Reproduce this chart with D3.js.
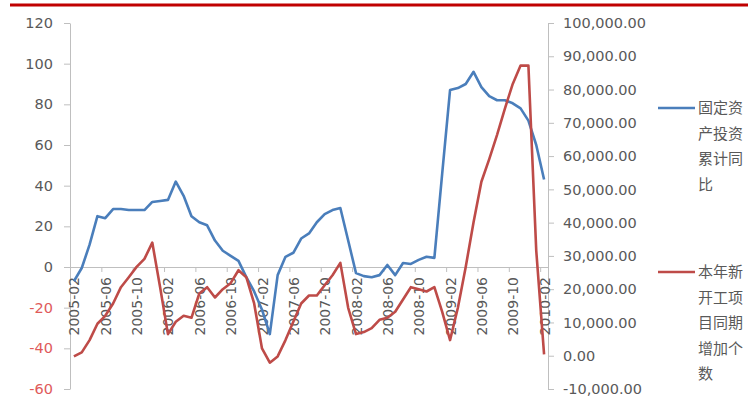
<!DOCTYPE html>
<html>
<head>
<meta charset="utf-8">
<title>固定资产投资累计同比 vs 本年新开工项目同期增加个数</title>
<script src="https://d3js.org/d3.v7.min.js"></script>
<style>
body { margin: 0; background: #fff; }
svg text { font-family: "DejaVu Sans", sans-serif; fill: #595959; }
.legend text { font-family: "Noto Sans CJK SC", sans-serif; font-size: 15px; }
.axis path, .axis line { stroke: #bfbfbf; }
</style>
</head>
<body>
<svg class="chart" width="753" height="408"></svg>
<script>

// months on the category axis
var months = [
  "2005-02","2005-03","2005-04","2005-05","2005-06","2005-07","2005-08","2005-09","2005-10","2005-11","2005-12",
  "2006-01","2006-02","2006-03","2006-04","2006-05","2006-06","2006-07","2006-08","2006-09","2006-10","2006-11","2006-12",
  "2007-01","2007-02","2007-03","2007-04","2007-05","2007-06","2007-07","2007-08","2007-09","2007-10","2007-11","2007-12",
  "2008-01","2008-02","2008-03","2008-04","2008-05","2008-06","2008-07","2008-08","2008-09","2008-10","2008-11","2008-12",
  "2009-01","2009-02","2009-03","2009-04","2009-05","2009-06","2009-07","2009-08","2009-09","2009-10","2009-11","2009-12",
  "2010-01","2010-02"
];

// blue, left axis (%)
var investYoY = [
  -7, -0.5, 11, 25, 24, 28.5, 28.5, 28, 28, 28, 32,
  32.5, 33, 42, 35, 25, 22, 20.5, 13, 8, 5.5, 3, -5,
  -12, -21, -33, -4, 5, 7, 14, 16.5, 22, 26, 28, 29,
  13, -3, -4.5, -5, -4, 1, -4, 2, 1.5, 3.5, 5, 4.5,
  46, 87, 88, 90, 96, 88.5, 84, 82, 82, 80.5, 78, 72,
  60, 43
];

// red, right axis (count)
var newProjects = [
  -200, 1000, 4700, 9600, 12000, 15700, 20600, 23600, 26700, 29100, 34000,
  20600, 6500, 10200, 12000, 11400, 18700, 20600, 17500, 20000, 21800, 25700, 23600,
  15700, 2200, -2100, -200, 4700, 10200, 15700, 18100, 18100, 21200, 24200, 27900,
  14400, 6500, 7100, 8300, 10800, 11400, 13200, 16900, 20600, 20000, 19300, 20600,
  13200, 4700, 14400, 26700, 40100, 52300, 59100, 66400, 74300, 81700, 87200, 87200,
  31600, 400
];

var leftTicks = [-60, -40, -20, 0, 20, 40, 60, 80, 100, 120];
var rightTicks = [-10000, 0, 10000, 20000, 30000, 40000, 50000, 60000, 70000, 80000, 90000, 100000];
var monthTicks = months.filter(function(d, i){ return i % 4 == 0; });

var seriesNames = [
  ["固定资", "产投资", "累计同", "比"],
  ["本年新", "开工项", "目同期", "增加个", "数"]
];
var seriesColors = ["#4a7ebb", "#be4b48"];

// plot box (window.top is read-only, so no plain "top")
var box = {left: 70, right: 548, top: 23, bottom: 389};

var svg = d3.select(".chart");

// red rule at the top of the page
svg.append("line")
  .attr("x1", 10).attr("x2", 748)
  .attr("y1", 5).attr("y2", 5)
  .attr("stroke", "#c00000")
  .attr("stroke-width", 3);

var x = d3.scalePoint().domain(months).range([box.left, box.right]).padding(0.5);
var yL = d3.scaleLinear().domain([-60, 120]).range([box.bottom, box.top]);
var yR = d3.scaleLinear().domain([-10000, 100000]).range([box.bottom, box.top]);

function minus(s) { return s.replace("\u2212", "-"); }

//left axis
var gL = svg.append("g")
  .attr("class", "axis")
  .attr("transform", "translate(" + box.left + ",0)")
  .call(d3.axisLeft(yL).tickValues(leftTicks).tickSize(6).tickSizeOuter(0).tickPadding(11)
    .tickFormat(function(d){ return minus(d3.format("d")(d)); }));
gL.selectAll("text")
  .style("font-size", "14.5px")
  .style("fill", function(d){ return d < 0 ? "#e05a5a" : "#595959"; });

//right axis
var gR = svg.append("g")
  .attr("class", "axis")
  .attr("transform", "translate(" + box.right + ",0)")
  .call(d3.axisRight(yR).tickValues(rightTicks).tickSize(6).tickSizeOuter(0).tickPadding(9)
    .tickFormat(function(d){ return minus(d3.format(",.2f")(d)); }));
gR.selectAll("text").style("font-size", "14.5px");

//bottom axis, sitting on zero
var half = x.step() / 2;
var gX = svg.append("g")
  .attr("class", "axis")
  .attr("transform", "translate(0," + yL(0) + ")")
  .call(d3.axisBottom(x).tickValues(monthTicks).tickSize(5).tickSizeOuter(0));
gX.selectAll(".tick line").attr("x1", -half).attr("x2", -half);
gX.selectAll(".tick text")
  .attr("transform", "rotate(-90)")
  .attr("x", -10)
  .attr("y", 0)
  .attr("dy", "0.36em")
  .style("text-anchor", "end")
  .style("font-size", "14px");

// lines
var lineL = d3.line()
  .x(function(d, i){ return x(months[i]); })
  .y(function(d){ return yL(d); });
var lineR = d3.line()
  .x(function(d, i){ return x(months[i]); })
  .y(function(d){ return yR(d); });

svg.append("path")
  .datum(investYoY)
  .attr("fill", "none")
  .attr("stroke", seriesColors[0])
  .attr("stroke-width", 2.6)
  .attr("stroke-linejoin", "round")
  .attr("d", lineL);

svg.append("path")
  .datum(newProjects)
  .attr("fill", "none")
  .attr("stroke", seriesColors[1])
  .attr("stroke-width", 2.6)
  .attr("stroke-linejoin", "round")
  .attr("d", lineR);

// legend
var legendY = [108, 272];
var legend = svg.append("g").attr("class", "legend");
seriesNames.forEach(function(rows, k){
  legend.append("line")
    .attr("x1", 658).attr("x2", 695)
    .attr("y1", legendY[k]).attr("y2", legendY[k])
    .attr("stroke", seriesColors[k])
    .attr("stroke-width", 2.6);
  rows.forEach(function(r, j){
    legend.append("text")
      .attr("x", 698)
      .attr("y", legendY[k] + j * 25.5)
      .attr("dy", "0.35em")
      .text(r);
  });
});

</script>
</body>
</html>
